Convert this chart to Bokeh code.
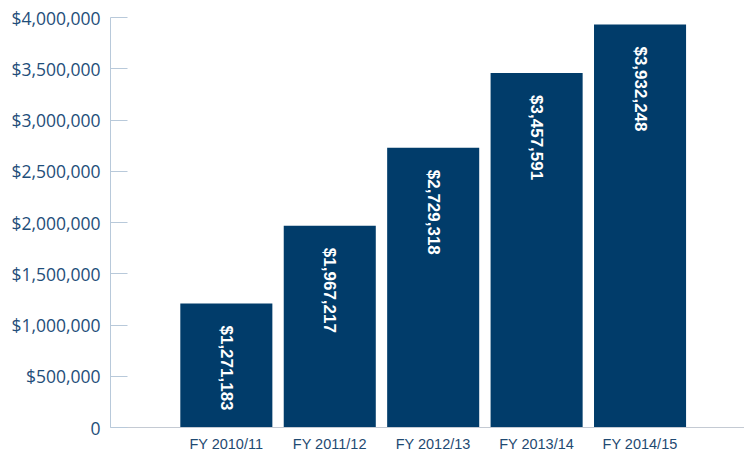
import math
from bokeh.plotting import figure
from bokeh.models import ColumnDataSource, Range1d, FixedTicker, NumeralTickFormatter
from bokeh.core.properties import value
from bokeh.embed import file_html
from bokeh.resources import INLINE

categories = ["FY 2010/11", "FY 2011/12", "FY 2012/13", "FY 2013/14", "FY 2014/15"]
bar_values = [1210000, 1967217, 2729318, 3457591, 3932248]
bar_labels = ["$1,271,183", "$1,967,217", "$2,729,318", "$3,457,591", "$3,932,248"]
y_ticks = [0, 500000, 1000000, 1500000, 2000000, 2500000, 3000000, 3500000, 4000000]

idx = list(range(len(categories)))
src = ColumnDataSource(dict(x=idx, top=bar_values, label=bar_labels))

p = figure(frame_width=634, frame_height=410, output_backend="svg", toolbar_location=None,
           x_range=Range1d(-1.12, 5.01), y_range=Range1d(0, 4000000),
           min_border_left=110, min_border_top=17, min_border_right=0, min_border_bottom=22)
p.outline_line_color = None
p.xgrid.grid_line_color = None
p.ygrid.grid_line_color = None
p.background_fill_color = "white"
p.border_fill_color = "white"

p.vbar(x="x", top="top", width=0.89, bottom=0, source=src, fill_color="#013c6a", line_color=None)
p.text(x="x", y="top", text="label", source=src, angle=-math.pi / 2, y_offset=22,
       text_align="left", text_baseline="middle", text_color="white",
       text_font=value("Liberation Sans"), text_font_style="bold", text_font_size="17px")

xa = p.xaxis[0]
xa.ticker = FixedTicker(ticks=idx)
xa.major_label_overrides = {i: c for i, c in zip(idx, categories)}
xa.major_tick_line_color = None
xa.minor_tick_line_color = None
xa.axis_line_color = "#c4cad3"
xa.major_label_text_font = "Liberation Sans"
xa.major_label_text_font_size = "14.5px"
xa.major_label_text_color = "#1f4a72"
xa.major_label_standoff = 2

ya = p.yaxis[0]
ya.ticker = FixedTicker(ticks=y_ticks)
ya.formatter = NumeralTickFormatter(format="$0,0")
ya.major_label_overrides = {0: "0"}
ya.major_tick_in = 17
ya.major_tick_out = 0
ya.minor_tick_line_color = None
ya.axis_line_color = "#b8c9da"
ya.major_tick_line_color = "#b8c9da"
ya.major_label_text_font = "Open Sans"
ya.major_label_text_font_size = "17.5px"
ya.major_label_text_color = "#1f4e7a"
ya.major_label_text_baseline = "hanging"
ya.major_label_standoff = 10

open("out.html", "w").write(file_html(p, INLINE))
